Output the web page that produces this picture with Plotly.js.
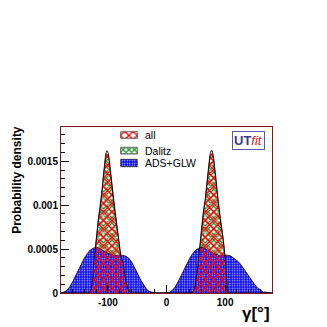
<!DOCTYPE html>
<html>
<head>
<meta charset="utf-8">
<script src="https://cdn.plot.ly/plotly-3.0.1.min.js"></script>
<style>
  body { margin: 0; background: #fff; }
  #grafico { width: 327px; height: 327px; }
</style>
</head>
<body>
<div id="grafico"></div>
<script>
// gamma [deg] grid for the two narrow peaks (all, Dalitz)
var gPeak = [-180, -132, -128, -126, -124, -122, -120, -118, -116, -114, -112, -110, -108, -106, -104, -102, -100,
  -98, -96, -94, -92, -90, -88, -86, -84, -82, -80, -78, -76, -74, -72, -70, -66, -62, -58,
  44, 48, 50, 52, 54, 56, 58, 60, 62, 64, 66, 68, 70, 72, 74, 76, 78, 80,
  82, 84, 86, 88, 90, 92, 94, 96, 98, 100, 102, 104, 106, 180];
var pAll = [0, 0, 0.00005, 0.00015, 0.00035, 0.00049, 0.00060, 0.00074, 0.00086, 0.00095, 0.00104, 0.00118, 0.00132, 0.00148, 0.00157, 0.00162, 0.00161,
  0.00154, 0.00143, 0.00130, 0.00116, 0.00102, 0.00090, 0.00081, 0.00072, 0.00063, 0.00052, 0.00043, 0.00038, 0.00034, 0.00025, 0.00015, 0.00005, 0.00001, 0,
  0, 0.00005, 0.00012, 0.00022, 0.00034, 0.00049, 0.00064, 0.00076, 0.00088, 0.00098, 0.00106, 0.00120, 0.00134, 0.00148, 0.00157, 0.00162, 0.00162, 0.00156,
  0.00146, 0.00133, 0.00119, 0.00105, 0.00093, 0.00083, 0.00075, 0.00066, 0.00054, 0.00040, 0.00015, 0.00002, 0, 0];
var pDalitz = [0, 0, 0.00005, 0.00014, 0.00033, 0.00047, 0.00058, 0.00072, 0.00084, 0.00093, 0.00102, 0.00115, 0.00129, 0.00144, 0.00153, 0.00158, 0.00157,
  0.00151, 0.00140, 0.00128, 0.00114, 0.00100, 0.00089, 0.00080, 0.00071, 0.00062, 0.00051, 0.00042, 0.00037, 0.00033, 0.00024, 0.00015, 0.00005, 0.00001, 0,
  0, 0.00005, 0.00012, 0.00021, 0.00033, 0.00047, 0.00062, 0.00074, 0.00086, 0.00096, 0.00104, 0.00117, 0.00131, 0.00144, 0.00153, 0.00158, 0.00158, 0.00153,
  0.00143, 0.00130, 0.00117, 0.00103, 0.00091, 0.00082, 0.00074, 0.00065, 0.00053, 0.00039, 0.00015, 0.00002, 0, 0];

// broad ADS+GLW distribution
var gAds = [-180, -175, -170, -165, -160, -155, -150, -145, -140, -135, -130, -125, -120, -115, -110, -105, -100,
  -95, -90, -85, -80, -75, -70, -65, -60, -55, -50, -45, -40, -35, -30, -25, -20,
  0, 5, 10, 15, 20, 25, 30, 35, 40, 45, 50, 55, 60, 65, 70, 75, 80,
  85, 90, 95, 100, 105, 110, 115, 120, 125, 130, 135, 140, 145, 150, 155, 160, 165, 170, 175, 180];
var pAds = [0, 0.00001, 0.00003, 0.00007, 0.00013, 0.00020, 0.00027, 0.00034, 0.00040, 0.00045, 0.00049, 0.00051, 0.00052, 0.00051, 0.00049, 0.00047, 0.00045,
  0.00044, 0.00043, 0.00043, 0.00043, 0.00043, 0.00042, 0.00040, 0.00036, 0.00030, 0.00023, 0.00016, 0.00010, 0.00005, 0.00002, 0.00001, 0,
  0, 0.00001, 0.00003, 0.00007, 0.00013, 0.00020, 0.00027, 0.00034, 0.00040, 0.00045, 0.00049, 0.00051, 0.00052, 0.00051, 0.00049, 0.00047, 0.00045,
  0.00044, 0.00043, 0.00043, 0.00043, 0.00043, 0.00042, 0.00040, 0.00037, 0.00034, 0.00029, 0.00024, 0.00019, 0.00015, 0.00010, 0.00006, 0.00003, 0.00001, 0.00001, 0, 0];

var yTicks = [0, 0.0005, 0.001, 0.0015];
var yTickText = ["0", "0.0005", "0.001", "0.0015"];
var xTicks = [-100, 0, 100];
var xTickText = ["-100", "0", "100"];

var legNames = ['all', 'Dalitz', 'ADS+GLW'];

var frame = '#7a1c1c';
var f = 'Liberation Sans, Arial, sans-serif';

var patAll = { shape: 'x', fgcolor: '#ff0000', bgcolor: 'rgba(0,0,0,0)', size: 6, solidity: 0.4 };
var patDal = { shape: 'x', fgcolor: '#2e8b2e', bgcolor: '#ffffff', size: 4, solidity: 0.55 };
var patAds = { shape: '.', fgcolor: '#c0c0ff', bgcolor: '#0000f0', size: 2.5, solidity: 0.3 };

var data = [
  { x: gPeak, y: pDalitz, name: 'Dalitz', mode: 'lines', fill: 'tozeroy', showlegend: false,
    line: { color: '#000', width: 0.8 }, fillcolor: 'rgba(0,0,0,0)', fillpattern: patDal },
  { x: gAds, y: pAds, name: 'ADS+GLW', mode: 'lines', fill: 'tozeroy', showlegend: false,
    line: { color: '#000', width: 0.8 }, fillcolor: 'rgba(0,0,0,0)', fillpattern: patAds },
  { x: gPeak, y: pAll, name: 'all', mode: 'lines', fill: 'tozeroy', showlegend: false,
    line: { color: '#000', width: 0.8 }, fillcolor: 'rgba(0,0,0,0)', fillpattern: patAll }
];

// legend swatches, drawn on a hidden overlay axis in plot pixels
var legPats = [patAll, patDal, patAds];
var legTop = [161.3, 145.7, 133.7];
var legBot = [154.7, 139.0, 126.3];
for (var i = 0; i < 3; i++) {
  data.push({ x: [59.7, 76.3, 76.3, 59.7, 59.7], y: [legBot[i], legBot[i], legTop[i], legTop[i], legBot[i]],
    xaxis: 'x2', yaxis: 'y2', mode: 'lines', fill: 'toself', showlegend: false, hoverinfo: 'skip',
    line: { color: '#000', width: 0.6 }, fillcolor: i === 0 ? '#ffffff' : 'rgba(0,0,0,0)', fillpattern: legPats[i] });
}

var legY = [0.952, 0.858, 0.783];
var annotations = [
  { text: 'Probability density', xref: 'paper', yref: 'paper', x: -0.21, y: 0.68, textangle: -90,
    xanchor: 'center', yanchor: 'middle',
    showarrow: false, font: { family: f, size: 12, weight: 'bold', color: '#000' } },
  { text: 'γ[°]', xref: 'paper', yref: 'paper', x: 1.0, y: -0.125, xanchor: 'right', yanchor: 'middle',
    showarrow: false, font: { family: f, size: 17, weight: 'bold', color: '#000' } },
  { text: '<b><span style="color:#3a3a8a">UT</span></b><i><span style="color:#e02020">fit</span></i>',
    xref: 'paper', yref: 'paper', x: 0.965, y: 0.976, xanchor: 'right', yanchor: 'top', showarrow: false,
    font: { family: f, size: 13, color: '#000' }, bordercolor: '#5a5aa0', borderwidth: 1, borderpad: 1, bgcolor: '#ffffff' }
];
for (var j = 0; j < legNames.length; j++) {
  annotations.push({ text: legNames[j], xref: 'paper', yref: 'paper', x: 0.387, y: legY[j], xanchor: 'left', yanchor: 'middle',
    showarrow: false, font: { family: f, size: 10.5, color: '#000' } });
}

var layout = {
  width: 327, height: 327,
  margin: { l: 61, r: 55, t: 127, b: 34 },
  paper_bgcolor: '#fff', plot_bgcolor: '#fff',
  showlegend: false,
  xaxis: { range: [-180, 180], tickvals: xTicks, ticktext: xTickText, ticks: 'inside', ticklen: 8,
    tickcolor: '#000', showgrid: false, zeroline: false, showline: true, mirror: true, linecolor: frame, linewidth: 1,
    tickfont: { family: f, size: 10, weight: 'bold', color: '#000' },
    minor: { dtick: 20, ticks: 'inside', ticklen: 4, tickcolor: '#000' } },
  yaxis: { range: [0, 0.00189], tickvals: yTicks, ticktext: yTickText, ticks: 'inside', ticklen: 8,
    tickcolor: '#000', showgrid: false, zeroline: false, showline: true, mirror: true, linecolor: frame, linewidth: 1,
    tickfont: { family: f, size: 10, weight: 'bold', color: '#000' },
    minor: { dtick: 0.0001, ticks: 'inside', ticklen: 4, tickcolor: '#000' } },
  xaxis2: { range: [0, 211], overlaying: 'x', anchor: 'y2', visible: false, fixedrange: true },
  yaxis2: { range: [0, 166], overlaying: 'y', anchor: 'x2', visible: false, fixedrange: true },
  annotations: annotations
};

Plotly.newPlot('grafico', data, layout, { staticPlot: true, displayModeBar: false });
</script>
</body>
</html>
